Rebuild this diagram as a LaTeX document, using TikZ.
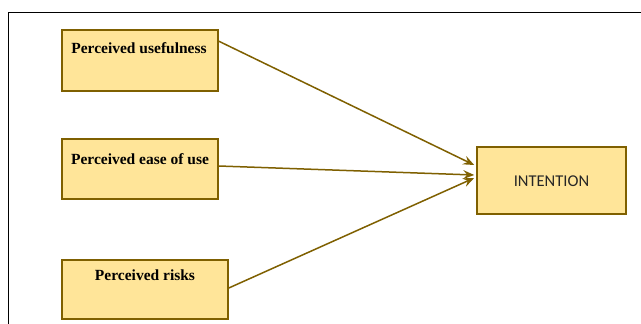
\documentclass[tikz,border=0pt]{standalone}
\usepackage{fontspec}
\setmainfont{Liberation Serif}
\newfontfamily\intfont{Carlito}
\usetikzlibrary{arrows.meta}
\definecolor{boxfill}{HTML}{FFE599}
\definecolor{boxdraw}{HTML}{7F6000}
\definecolor{arrcol}{HTML}{7F6000}
\definecolor{inttext}{HTML}{262626}
\begin{document}
\begin{tikzpicture}[x=1pt,y=-1pt,
  box/.style={draw=boxdraw,fill=boxfill,line width=1.6pt,rectangle,inner sep=0pt},
  lbl/.style={font=\fontsize{15.5}{17}\selectfont\bfseries,inner sep=0pt,anchor=base},
  conn/.style={draw=arrcol,line width=1.5pt,-{Stealth[length=11pt,width=9pt,inset=4pt]}}]
\useasboundingbox (0,0) rectangle (641,324);
\fill[white] (0,0) rectangle (641,324);
\draw[line width=1pt,black] (8,324) -- (8,12.5) -- (641,12.5);
\node[box,minimum width=156pt,minimum height=61pt] (b1) at (140,60.5) {};
\node[box,minimum width=156pt,minimum height=60pt] (b2) at (140,169) {};
\node[box,minimum width=166pt,minimum height=59pt] (b3) at (145,289.5) {};
\node[box,minimum width=149pt,minimum height=67pt] (t) at (551.5,180.5) {};
\node[lbl] (l1) at (139,53) {Perceived usefulness};
\node[lbl] (l2) at (140,164) {Perceived ease of use};
\node[lbl] (l3) at (145,280) {Perceived risks};
\node[font=\intfont\fontsize{16.5}{18}\selectfont,text=inttext,inner sep=0pt] (l4) at (551.5,181.5) {INTENTION};
\draw[conn] ([yshift=-12pt]b1.north east) -- ([yshift=15.5pt,xshift=-2pt]t.west);
\draw[conn] ([yshift=3pt]b2.east) -- ([yshift=5.5pt,xshift=-2pt]t.west);
\draw[conn] ([yshift=1.5pt]b3.east) -- ([yshift=2.5pt,xshift=-2pt]t.west);
\end{tikzpicture}
\end{document}
